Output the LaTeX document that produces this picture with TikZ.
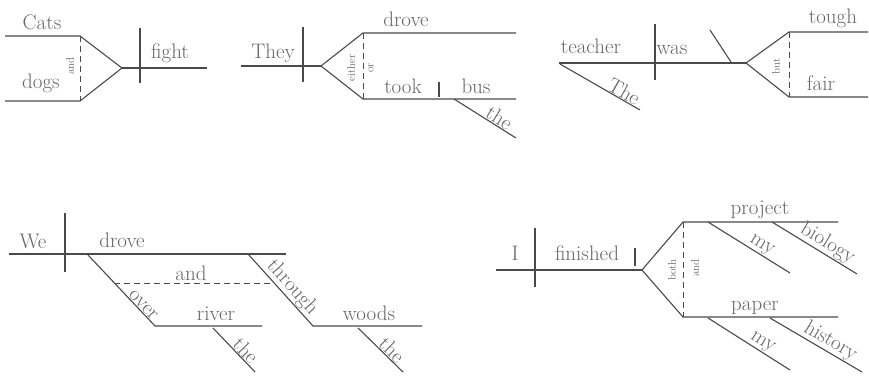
\documentclass[tikz,border=0pt]{standalone}
\usepackage{fontspec}
\definecolor{ln}{HTML}{4A4A4A}
\definecolor{tx}{HTML}{666666}
\begin{document}
\begin{tikzpicture}[x=1pt,y=-1pt,
 rule/.style={draw=ln, line width=1.1pt},
 dashrule/.style={draw=ln, line width=0.9pt, dash pattern=on 6pt off 4pt},
 word/.style={text=tx, font=\fontsize{21}{23}\selectfont, inner sep=0pt, anchor=base},
 conj/.style={text=tx, font=\fontsize{11}{12}\selectfont, inner sep=0pt, rotate=90},
 slant/.style={text=tx, font=\fontsize{21}{23}\selectfont, sloped, above, inner sep=0.5pt},
]
\useasboundingbox (0,0) rectangle (869,378);
% ---------- Diagram 1: Cats and dogs fight
\coordinate (A1) at (5,36);   \coordinate (A2) at (80,36);
\coordinate (B1) at (5,101);  \coordinate (B2) at (80,101);
\coordinate (J1) at (122,68); \coordinate (E1) at (207,68);
\coordinate (V1t) at (140,28); \coordinate (V1b) at (140,83);
\draw[rule] (A1) -- (A2) -- (J1);
\draw[rule] (B1) -- (B2) -- (J1);
\draw[rule] (J1) -- (E1);
\draw[rule] (V1t) -- (V1b);
\draw[dashrule] (A2) -- (B2);
\node[word] (cats) at (42,29) {Cats};
\node[word] (dogs) at (41,88) {dogs};
\node[word] (fight) at (170,58) {fight};
\node[conj] (and1) at (70,66) {and};
% ---------- Diagram 2: They either drove or took the bus
\coordinate (T1) at (241,66); \coordinate (J2) at (321,66);
\coordinate (U1) at (363,33); \coordinate (U2) at (516,33);
\coordinate (L1) at (363,99); \coordinate (L2) at (516,99);
\coordinate (V2t) at (303,27); \coordinate (V2b) at (303,82);
\coordinate (D2t) at (439,82); \coordinate (D2b) at (439,97);
\coordinate (S2a) at (454,99); \coordinate (S2b) at (516,138);
\draw[rule] (T1) -- (J2);
\draw[rule] (J2) -- (U1) -- (U2);
\draw[rule] (J2) -- (L1) -- (L2);
\draw[rule] (V2t) -- (V2b);
\draw[rule] (D2t) -- (D2b);
\draw[rule] (S2a) -- node[slant, pos=0.66] (the2) {the} (S2b);
\draw[dashrule] (U1) -- (L1);
\node[word] (they) at (273,58) {They};
\node[word] (drove2) at (406,26) {drove};
\node[word] (took) at (403,93) {took};
\node[word] (bus) at (476,93) {bus};
\node[conj] (either) at (351,68) {either};
\node[conj] (or) at (371,68) {or};
% ---------- Diagram 3: The teacher was tough but fair
\coordinate (T3a) at (559,63); \coordinate (J3) at (746,63);
\coordinate (V3t) at (655,24); \coordinate (V3b) at (655,80);
\coordinate (P3t) at (710,30); \coordinate (P3b) at (731,62);
\coordinate (U3a) at (789,32); \coordinate (U3b) at (868,32);
\coordinate (L3a) at (789,97); \coordinate (L3b) at (868,97);
\coordinate (S3a) at (560,64); \coordinate (S3b) at (640,110);
\draw[rule] (T3a) -- (J3);
\draw[rule] (V3t) -- (V3b);
\draw[rule] (P3t) -- (P3b);
\draw[rule] (J3) -- (U3a) -- (U3b);
\draw[rule] (J3) -- (L3a) -- (L3b);
\draw[dashrule] (U3a) -- (L3a);
\draw[rule] (S3a) -- node[slant, pos=0.75] (The3) {The} (S3b);
\node[word] (teacher) at (591,53) {teacher};
\node[word] (was) at (672,54) {was};
\node[word] (tough) at (833,23) {tough};
\node[word] (fair) at (821,90) {fair};
\node[conj] (but) at (776,66) {but};
% ---------- Diagram 4: We drove over the river and through the woods
\coordinate (W1) at (9,254);   \coordinate (W2) at (286,254);
\coordinate (V4t) at (65,213); \coordinate (V4b) at (65,272);
\coordinate (O1) at (88,255);  \coordinate (O2) at (155,326); \coordinate (R2) at (262,326);
\coordinate (Th1) at (248,254); \coordinate (Th2) at (313,326); \coordinate (Wd2) at (422,326);
\coordinate (Ra) at (213,328); \coordinate (Rb) at (255,372);
\coordinate (Wa) at (358,328); \coordinate (Wb) at (403,372);
\coordinate (K1) at (114,283); \coordinate (K2) at (274,283);
\draw[rule] (W1) -- (W2);
\draw[rule] (V4t) -- (V4b);
\draw[rule] (O1) -- node[slant, pos=0.76] (over) {over} (O2) -- (R2);
\draw[rule] (Th1) -- node[slant, pos=0.56] (through) {through} (Th2) -- (Wd2);
\draw[rule] (Ra) -- node[slant, pos=0.64] (the4a) {the} (Rb);
\draw[rule] (Wa) -- node[slant, pos=0.625] (the4b) {the} (Wb);
\draw[dashrule] (K1) -- (K2);
\node[word] (we) at (33,248) {We};
\node[word] (drove4) at (122,247) {drove};
\node[word] (and4) at (191,280) {and};
\node[word] (river) at (216,320) {river};
\node[word] (woods) at (369,320) {woods};
% ---------- Diagram 5: I finished both my biology project and my history paper
\coordinate (I1) at (496,270); \coordinate (J5) at (642,270);
\coordinate (V5t) at (535,228); \coordinate (V5b) at (535,287);
\coordinate (D5t) at (635,248); \coordinate (D5b) at (635,266);
\coordinate (U5a) at (683,222); \coordinate (U5b) at (838,222);
\coordinate (L5a) at (683,317); \coordinate (L5b) at (838,317);
\coordinate (M1a) at (708,222); \coordinate (M1b) at (790,273);
\coordinate (Ba) at (772,222);  \coordinate (Bb) at (857,274);
\coordinate (M2a) at (708,318); \coordinate (M2b) at (790,370);
\coordinate (Ha) at (770,318);  \coordinate (Hb) at (862,372);
\draw[rule] (I1) -- (J5);
\draw[rule] (V5t) -- (V5b);
\draw[rule] (D5t) -- (D5b);
\draw[rule] (J5) -- (U5a) -- (U5b);
\draw[rule] (J5) -- (L5a) -- (L5b);
\draw[dashrule] (U5a) -- (L5a);
\draw[rule] (M1a) -- node[slant, pos=0.6] (my1) {my} (M1b);
\draw[rule] (Ba) -- node[slant, pos=0.59] (biology) {biology} (Bb);
\draw[rule] (M2a) -- node[slant, pos=0.61] (my2) {my} (M2b);
\draw[rule] (Ha) -- node[slant, pos=0.6] (history) {history} (Hb);
\node[word] (I) at (515,260) {I};
\node[word] (finished) at (587,260) {finished};
\node[word] (project) at (760,214) {project};
\node[word] (paper) at (755,310) {paper};
\node[conj] (both) at (672,270) {both};
\node[conj] (and5) at (695,268) {and};
\end{tikzpicture}
\end{document}
